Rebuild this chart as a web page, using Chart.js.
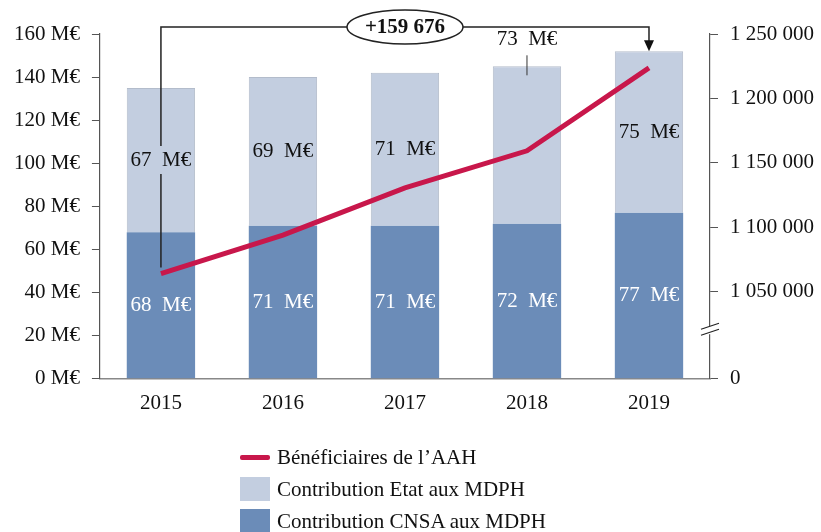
<!DOCTYPE html>
<html>
<head>
<meta charset="utf-8">
<script src="https://cdn.jsdelivr.net/npm/chart.js@4/dist/chart.umd.min.js"></script>
<style>
  body { margin: 0; background: #fff; }
  .wrap { position: relative; width: 821px; height: 532px; }
  .legend { position: absolute; left: 240px; top: 441px; font-family: "Liberation Serif", serif; font-size: 21px; color: #111; }
  .legend div { height: 32px; display: flex; align-items: center; }
  .legend span.sw { display: inline-block; width: 30px; margin-right: 7px; }
</style>
</head>
<body>
<div class="wrap">
  <canvas id="popChart" width="821" height="532"></canvas>
  <div class="legend">
    <div><span class="sw" style="height:5px;background:#C8174B;border-radius:2px"></span>Bénéficiaires de l’AAH</div>
    <div><span class="sw" style="height:24px;background:#C3CEE0"></span>Contribution Etat aux MDPH</div>
    <div><span class="sw" style="height:24px;background:#6B8CB8"></span>Contribution CNSA aux MDPH</div>
  </div>
</div>
<script>
// data
var years = ["2015", "2016", "2017", "2018", "2019"];
var cnsa = [68, 71, 71, 72, 77];
var etat = [67, 69, 71, 73, 75];
var beneficiaires = [1064000, 1093800, 1130500, 1159300, 1223676];
var leftTicks = [0, 20, 40, 60, 80, 100, 120, 140, 160];
var rightTicks = [982300, 1050000, 1100000, 1150000, 1200000, 1250000];
var diffLabel = "+159 676";

var serif = '"Liberation Serif", serif';

function fmt(n) {
    return String(n).replace(/\B(?=(\d{3})+(?!\d))/g, ' ');
}

////////////////////// labels + bracket

var extras = {
    id: 'extras',
    afterDatasetsDraw: function(chart) {
        var ctx = chart.ctx;
        var x = chart.scales.x, y = chart.scales.y, y1 = chart.scales.y1;
        ctx.save();
        ctx.font = '21px ' + serif;
        ctx.textAlign = 'center';
        ctx.textBaseline = 'middle';

        for (var i = 0; i < years.length; i++) {
            var cx = x.getPixelForValue(i);
            ctx.fillStyle = '#fff';
            ctx.fillText(cnsa[i] + '  M€', cx, y.getPixelForValue(cnsa[i] / 2));
            ctx.fillStyle = '#111';
            if (i === 3) {
                var top = y.getPixelForValue(cnsa[i] + etat[i]);
                ctx.fillText(etat[i] + '  M€', cx, top - 27);
                ctx.strokeStyle = '#333';
                ctx.lineWidth = 1;
                ctx.beginPath();
                ctx.moveTo(cx, top - 11);
                ctx.lineTo(cx, top + 9);
                ctx.stroke();
            } else {
                ctx.fillText(etat[i] + '  M€', cx, y.getPixelForValue(cnsa[i] + etat[i] / 2));
            }
        }

        // bracket
        var x0 = x.getPixelForValue(0), x4 = x.getPixelForValue(4);
        var p0 = y1.getPixelForValue(beneficiaires[0]);
        var gapMid = y.getPixelForValue(cnsa[0] + etat[0] / 2);
        var endY = y.getPixelForValue(cnsa[4] + etat[4]);
        var ty = 27;
        ctx.strokeStyle = '#222';
        ctx.lineWidth = 1.5;
        ctx.beginPath();
        ctx.moveTo(x0, p0 - 6);
        ctx.lineTo(x0, gapMid + 14);
        ctx.moveTo(x0, gapMid - 14);
        ctx.lineTo(x0, ty);
        ctx.lineTo(x4, ty);
        ctx.lineTo(x4, endY - 10);
        ctx.stroke();
        ctx.fillStyle = '#111';
        ctx.beginPath();
        ctx.moveTo(x4 - 5, endY - 11);
        ctx.lineTo(x4 + 5, endY - 11);
        ctx.lineTo(x4, endY);
        ctx.closePath();
        ctx.fill();

        var ex = 405;
        ctx.fillStyle = '#fff';
        ctx.beginPath();
        ctx.ellipse(ex, ty, 58, 17, 0, 0, Math.PI * 2);
        ctx.fill();
        ctx.stroke();
        ctx.fillStyle = '#111';
        ctx.font = 'bold 21px ' + serif;
        ctx.fillText(diffLabel, ex, ty + 1);

        // axis break
        var by = y1.getPixelForValue(1020000);
        var rx = y1.left;
        ctx.strokeStyle = '#222';
        ctx.lineWidth = 1.2;
        ctx.fillStyle = '#fff';
        ctx.fillRect(rx - 3, by - 4, 6, 8);
        ctx.beginPath();
        ctx.moveTo(rx - 9, by - 1);
        ctx.lineTo(rx + 9, by - 7);
        ctx.moveTo(rx - 9, by + 5);
        ctx.lineTo(rx + 9, by - 1);
        ctx.stroke();
        ctx.restore();
    }
};

var popCanvas = document.getElementById('popChart');

var lineChart = new Chart(popCanvas, {
    type: 'bar',
    data: {
        labels: years,
        datasets: [{
            type: 'line',
            label: "Bénéficiaires de l'AAH",
            data: beneficiaires,
            yAxisID: 'y1',
            borderColor: '#C8174B',
            borderWidth: 5,
            pointRadius: 0,
            tension: 0,
            fill: false,
            order: 0
        }, {
            label: 'Contribution CNSA aux MDPH',
            data: cnsa,
            backgroundColor: '#6B8CB8',
            stack: 'a',
            barPercentage: 0.56,
            categoryPercentage: 1,
            order: 1
        }, {
            label: 'Contribution Etat aux MDPH',
            data: etat,
            backgroundColor: '#C3CEE0',
            borderColor: '#B3BCCB',
            borderWidth: { top: 1, left: 1, right: 1, bottom: 0 },
            stack: 'a',
            barPercentage: 0.56,
            categoryPercentage: 1,
            order: 1
        }]
    },
    options: {
        responsive: false,
        animation: false,
        layout: { padding: { top: 34, bottom: 112, left: 2, right: 0 } },
        plugins: { legend: { display: false }, tooltip: { enabled: false } },
        scales: {
            x: {
                stacked: true,
                grid: { display: false },
                border: { display: true, color: '#888', width: 1.5 },
                ticks: { color: '#111', font: { family: serif, size: 21 }, padding: 4 }
            },
            y: {
                stacked: true,
                min: 0,
                max: 160,
                afterBuildTicks: function(s) { s.ticks = leftTicks.map(function(v) { return { value: v }; }); },
                grid: { drawOnChartArea: false, drawTicks: true, tickLength: 8, color: '#555' },
                border: { display: true, color: '#555', width: 1.2 },
                ticks: { color: '#111', font: { family: serif, size: 21 }, padding: 12,
                    callback: function(v) { return v + ' M€'; } }
            },
            y1: {
                position: 'right',
                min: rightTicks[0],
                max: 1250000,
                afterBuildTicks: function(s) { s.ticks = rightTicks.map(function(v) { return { value: v }; }); },
                afterFit: function(s) { s.width -= 5; },
                grid: { drawOnChartArea: false, drawTicks: true, tickLength: 8, color: '#555' },
                border: { display: true, color: '#555', width: 1.2 },
                ticks: { color: '#111', font: { family: serif, size: 21 }, padding: 12,
                    callback: function(v) { return v < 1000000 ? '0' : fmt(v); } }
            }
        }
    },
    plugins: [extras]
});
</script>
</body>
</html>
